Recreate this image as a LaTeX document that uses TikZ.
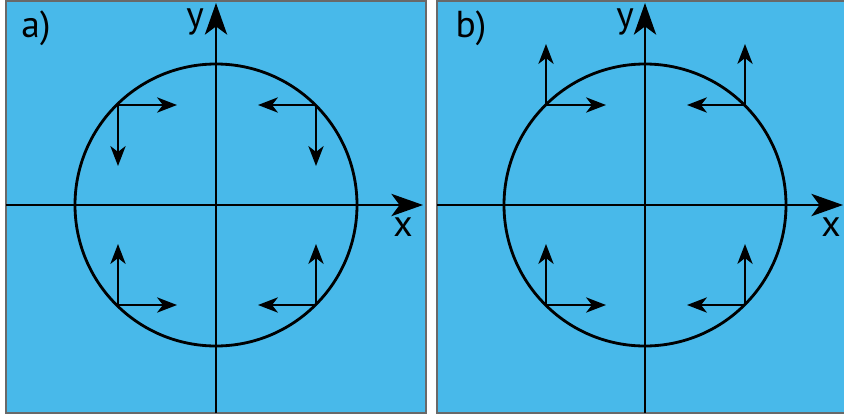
\documentclass[tikz,border=0pt]{standalone}
\usepackage{fontspec}
\setmainfont{PT Sans}
\usetikzlibrary{arrows.meta}
\definecolor{panelblue}{RGB}{72,185,234}
\definecolor{framegray}{RGB}{105,105,105}

\begin{document}
\begin{tikzpicture}[x=0.03cm, y=-0.03cm,
  panel/.style={draw=framegray, line width=2.2pt, fill=panelblue},
  axis/.style={line width=1.9pt, -{Stealth[length=27pt, width=19pt, inset=7pt]}},
  ring/.style={line width=2.4pt},
  arr/.style={line width=1.9pt, -{Stealth[length=17pt, width=13pt, inset=5pt]}},
  lbl/.style={font=\fontsize{32}{34}\selectfont, inner sep=0pt}
]
\useasboundingbox (0,0) rectangle (844,417);

%% ---- PANELS ----
\draw[panel] (6,1) rectangle (426,413);
\draw[panel] (437,1) rectangle (850,413);

%% ---- LEFT PANEL: a) ----
\coordinate (oa) at (216,205);
\coordinate (xa0) at (6,205);
\coordinate (xa1) at (423,205);
\coordinate (ya0) at (216,413);
\coordinate (ya1) at (216,3);
\draw[axis] (xa0) -- (xa1);
\draw[axis] (ya0) -- (ya1);
\draw[ring] (oa) circle[radius=141];
\node[lbl] (taga) at (36,28) {a)};
\node[lbl] (xlabela) at (403,227) {x};
\node[lbl] (ylabela) at (195,22) {y};

\coordinate (a1) at (118,105);
\coordinate (a2) at (316,105);
\coordinate (a3) at (118,305);
\coordinate (a4) at (316,305);
\coordinate (a1h) at (177,105);
\coordinate (a1v) at (118,166);
\coordinate (a2h) at (258,105);
\coordinate (a2v) at (316,166);
\coordinate (a3h) at (177,305);
\coordinate (a3v) at (118,244);
\coordinate (a4h) at (258,305);
\coordinate (a4v) at (316,244);
\draw[arr] (a1) -- (a1h);
\draw[arr] (a1) -- (a1v);
\draw[arr] (a2) -- (a2h);
\draw[arr] (a2) -- (a2v);
\draw[arr] (a3) -- (a3h);
\draw[arr] (a3) -- (a3v);
\draw[arr] (a4) -- (a4h);
\draw[arr] (a4) -- (a4v);

%% ---- RIGHT PANEL: b) ----
\coordinate (ob) at (645,205);
\coordinate (xb0) at (437,205);
\coordinate (xb1) at (843,205);
\coordinate (yb0) at (645,413);
\coordinate (yb1) at (645,3);
\draw[axis] (xb0) -- (xb1);
\draw[axis] (yb0) -- (yb1);
\draw[ring] (ob) circle[radius=141];
\node[lbl] (tagb) at (471,28) {b)};
\node[lbl] (xlabelb) at (831,227) {x};
\node[lbl] (ylabelb) at (625,22) {y};

\coordinate (b1) at (546,105);
\coordinate (b2) at (745,105);
\coordinate (b3) at (546,305);
\coordinate (b4) at (745,305);
\coordinate (b1h) at (606,105);
\coordinate (b1v) at (546,44);
\coordinate (b2h) at (687,105);
\coordinate (b2v) at (745,44);
\coordinate (b3h) at (606,305);
\coordinate (b3v) at (546,244);
\coordinate (b4h) at (687,305);
\coordinate (b4v) at (745,244);
\draw[arr] (b1) -- (b1h);
\draw[arr] (b1) -- (b1v);
\draw[arr] (b2) -- (b2h);
\draw[arr] (b2) -- (b2v);
\draw[arr] (b3) -- (b3h);
\draw[arr] (b3) -- (b3v);
\draw[arr] (b4) -- (b4h);
\draw[arr] (b4) -- (b4v);

\end{tikzpicture}
\end{document}
